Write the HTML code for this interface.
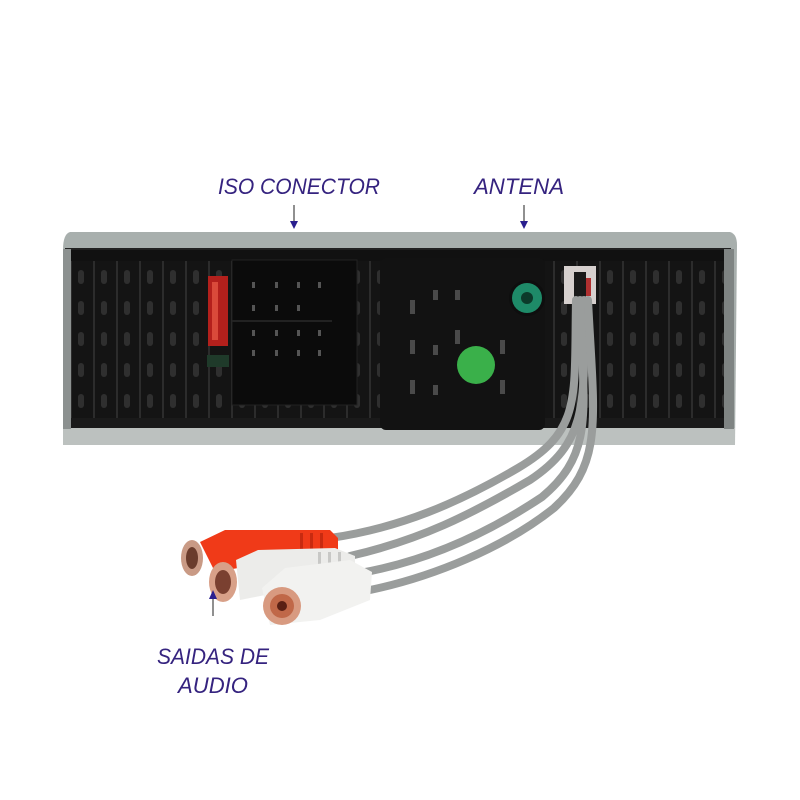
<!DOCTYPE html>
<html><head><meta charset="utf-8"><style>
html,body{margin:0;padding:0;background:#fff;}
svg{display:block;}
text{font-family:"Liberation Sans",sans-serif;fill:#35237f;font-style:italic;}
</style></head><body>
<svg width="800" height="800" viewBox="0 0 800 800" xmlns="http://www.w3.org/2000/svg">
<defs>
<pattern id="slots" x="70" y="262" width="23" height="31" patternUnits="userSpaceOnUse">
<rect x="0" y="0" width="23" height="31" fill="#141414"/>
<rect x="0" y="0" width="2" height="31" fill="#2c2c2c"/>
<rect x="8" y="8" width="6" height="14" rx="3" fill="#2f2f2f"/>
</pattern>
</defs>
<rect width="800" height="800" fill="#fff"/>
<text x="218" y="194" font-size="22" textLength="162" lengthAdjust="spacingAndGlyphs">ISO CONECTOR</text>
<text x="474" y="194" font-size="22" textLength="90" lengthAdjust="spacingAndGlyphs">ANTENA</text>
<line x1="294" y1="205" x2="294" y2="222" stroke="#555" stroke-width="1.3"/>
<polygon points="290,221 298,221 294,229" fill="#2a1f8f"/>
<line x1="524" y1="205" x2="524" y2="222" stroke="#555" stroke-width="1.3"/>
<polygon points="520,221 528,221 524,229" fill="#2a1f8f"/>
<!-- body -->
<path d="M70,232 L730,232 Q737,234 737,245 L735,445 L63,445 L63,250 Q63,234 70,232Z" fill="#a8afad"/>
<rect x="66" y="249" width="664" height="178" fill="url(#slots)"/>
<rect x="66" y="249" width="664" height="12" fill="#111"/>
<rect x="66" y="249" width="664" height="178" fill="none" stroke="#222" stroke-width="2"/>
<rect x="66" y="418" width="664" height="10" fill="#1a1a1a"/>
<rect x="63" y="428" width="672" height="17" fill="#bcc1bf"/>
<rect x="63" y="249" width="8" height="180" fill="#8c9190"/>
<rect x="724" y="249" width="10" height="180" fill="#7f8483"/>
<!-- center recess -->
<rect x="380" y="258" width="165" height="172" rx="6" fill="#121212"/>
<g fill="#4a4a4a">
<rect x="433" y="290" width="5" height="10"/><rect x="455" y="290" width="5" height="10"/>
<rect x="433" y="345" width="5" height="10"/><rect x="433" y="385" width="5" height="10"/>
<rect x="455" y="330" width="5" height="14"/>
<rect x="410" y="300" width="5" height="14"/><rect x="410" y="340" width="5" height="14"/><rect x="410" y="380" width="5" height="14"/>
<rect x="500" y="340" width="5" height="14"/><rect x="500" y="380" width="5" height="14"/>
</g>
<!-- ISO block -->
<rect x="232" y="260" width="125" height="145" fill="#0b0b0b" stroke="#222"/>
<g fill="#555">
<rect x="252" y="282" width="3" height="6"/><rect x="275" y="282" width="3" height="6"/><rect x="297" y="282" width="3" height="6"/><rect x="318" y="282" width="3" height="6"/>
<rect x="252" y="305" width="3" height="6"/><rect x="275" y="305" width="3" height="6"/><rect x="297" y="305" width="3" height="6"/>
<rect x="252" y="330" width="3" height="6"/><rect x="275" y="330" width="3" height="6"/><rect x="297" y="330" width="3" height="6"/><rect x="318" y="330" width="3" height="6"/>
<rect x="252" y="350" width="3" height="6"/><rect x="275" y="350" width="3" height="6"/><rect x="297" y="350" width="3" height="6"/><rect x="318" y="350" width="3" height="6"/>
</g>
<rect x="232" y="320" width="100" height="2" fill="#222"/>
<!-- fuse -->
<rect x="208" y="276" width="20" height="70" fill="#b3201c"/>
<rect x="212" y="282" width="6" height="58" fill="#d94a3a"/>
<rect x="207" y="355" width="22" height="12" fill="#1f3a2a"/>
<!-- antenna -->
<circle cx="527" cy="298" r="18" fill="#0e0e0e"/>
<circle cx="527" cy="298" r="15" fill="#1e8a68"/>
<circle cx="527" cy="298" r="6" fill="#0c3a2a"/>
<!-- green sticker -->
<circle cx="476" cy="365" r="19" fill="#3ab04a"/>
<!-- connector top right -->
<rect x="564" y="266" width="32" height="38" fill="#d6d0ce"/>
<rect x="574" y="272" width="12" height="28" fill="#1a1a1a"/>
<rect x="586" y="278" width="5" height="18" fill="#b03030"/>
<!-- cables -->
<g fill="none" stroke="#9a9d9c" stroke-width="8" stroke-linecap="round">
<path d="M576,300 C574,400 582,430 518,468 C458,503 400,528 330,538"/>
<path d="M584,300 C584,400 590,440 530,480 C470,515 420,540 350,556"/>
<path d="M580,300 C583,410 596,452 542,497 C482,537 422,562 360,573"/>
<path d="M588,300 C594,420 604,462 554,508 C504,548 432,577 370,590"/>
</g>
<!-- red plug -->
<polygon points="200,542 225,530 330,530 338,538 338,558 250,566 215,572" fill="#f03a18"/>
<g fill="#c82a10"><rect x="300" y="533" width="3" height="22"/><rect x="310" y="533" width="3" height="22"/><rect x="320" y="533" width="3" height="22"/></g>
<ellipse cx="192" cy="558" rx="11" ry="18" fill="#c99a85"/>
<ellipse cx="192" cy="558" rx="6" ry="11" fill="#6a3c2c"/>
<!-- white plug 1 -->
<polygon points="236,560 258,550 335,548 355,556 355,578 300,588 240,600" fill="#ececea"/>
<g fill="#c8c8c6"><rect x="318" y="552" width="3" height="22"/><rect x="328" y="552" width="3" height="22"/><rect x="338" y="552" width="3" height="22"/></g>
<ellipse cx="223" cy="582" rx="14" ry="20" fill="#d8a088"/>
<ellipse cx="223" cy="582" rx="8" ry="12" fill="#7a4030"/>
<!-- white plug 2 -->
<polygon points="262,588 285,568 350,560 372,572 370,600 320,620 270,625" fill="#f2f2f0"/>
<circle cx="282" cy="606" r="19" fill="#d89a80"/>
<circle cx="282" cy="606" r="12" fill="#c06848"/>
<circle cx="282" cy="606" r="5" fill="#5a2014"/>
<!-- bottom labels -->
<line x1="213" y1="598" x2="213" y2="616" stroke="#555" stroke-width="1.3"/>
<polygon points="209,599 217,599 213,590" fill="#2a1f8f"/>
<text x="157" y="664" font-size="22" textLength="112" lengthAdjust="spacingAndGlyphs">SAIDAS DE</text>
<text x="178" y="693" font-size="22" textLength="70" lengthAdjust="spacingAndGlyphs">AUDIO</text>
</svg>
</body></html>
